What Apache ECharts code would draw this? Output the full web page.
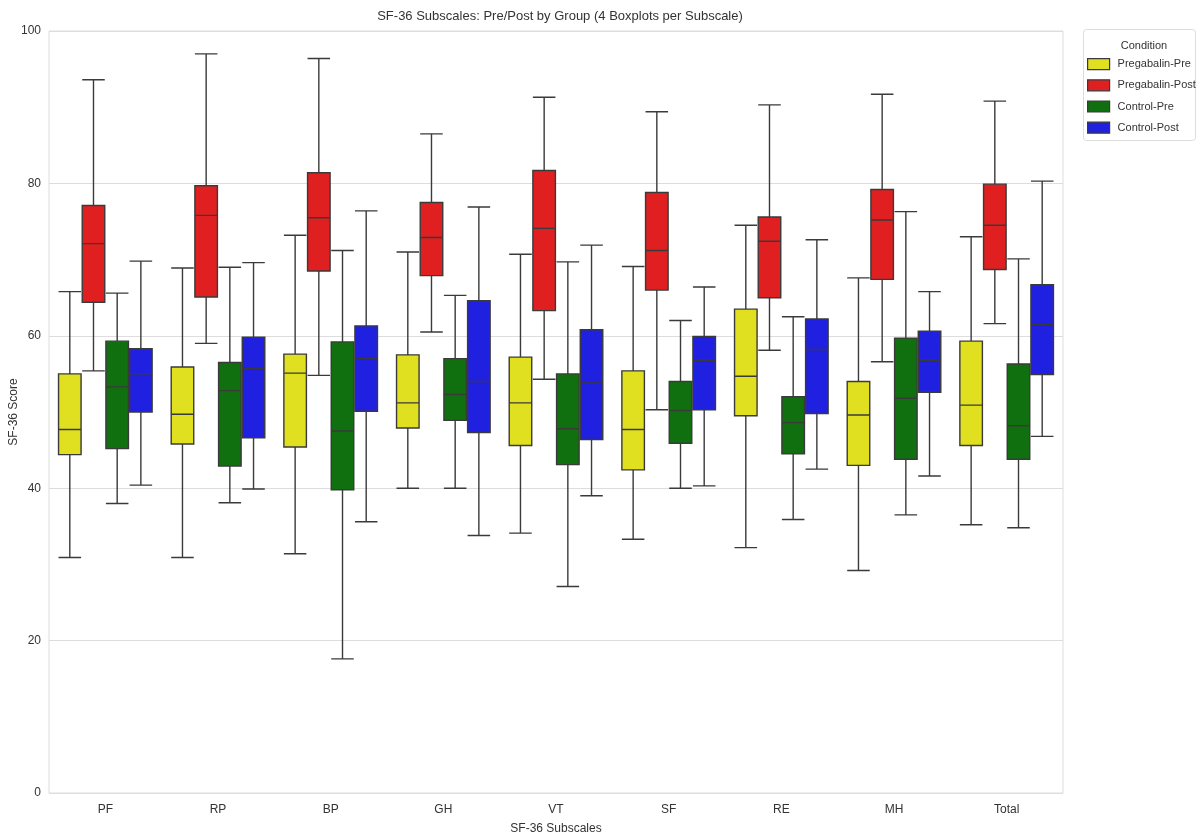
<!DOCTYPE html>
<html>
<head>
<meta charset="utf-8">
<title>SF-36 Subscales boxplots</title>
<script src="https://cdn.jsdelivr.net/npm/echarts@6/dist/echarts.min.js"></script>
<style>
  html, body { margin: 0; padding: 0; background: #fff; }
  #chart { width: 1198px; height: 837px; }
</style>
</head>
<body>
<div id="chart"></div>
<script>
  // subscales on x
  var subscales = ['PF', 'RP', 'BP', 'GH', 'VT', 'SF', 'RE', 'MH', 'Total'];
  var conditions = ['Pregabalin-Pre', 'Pregabalin-Post', 'Control-Pre', 'Control-Post'];
  var colors = ['#e0e020', '#e02020', '#107010', '#2020e0'];

  // each box: [low whisker, Q1, median, Q3, high whisker]
  var pregabalinPre = [
    [30.9, 44.4, 47.7, 55.0, 65.8],
    [30.9, 45.8, 49.7, 55.9, 68.9],
    [31.4, 45.4, 55.1, 57.6, 73.2],
    [40.0, 47.9, 51.2, 57.5, 71.0],
    [34.1, 45.6, 51.2, 57.2, 70.7],
    [33.3, 42.4, 47.7, 55.4, 69.1],
    [32.2, 49.5, 54.7, 63.5, 74.5],
    [29.2, 43.0, 49.6, 54.0, 67.6],
    [35.2, 45.6, 50.9, 59.3, 73.0]
  ];
  var pregabalinPost = [
    [55.4, 64.4, 72.1, 77.1, 93.6],
    [59.0, 65.1, 75.8, 79.7, 97.0],
    [54.8, 68.5, 75.5, 81.4, 96.4],
    [60.5, 67.9, 72.9, 77.5, 86.5],
    [54.3, 63.3, 74.1, 81.7, 91.3],
    [50.3, 66.0, 71.2, 78.8, 89.4],
    [58.1, 65.0, 72.4, 75.6, 90.3],
    [56.6, 67.4, 75.2, 79.2, 91.7],
    [61.6, 68.7, 74.5, 79.9, 90.8]
  ];
  var controlPre = [
    [38.0, 45.2, 53.3, 59.3, 65.6],
    [38.1, 42.9, 52.8, 56.5, 69.0],
    [17.6, 39.8, 47.5, 59.2, 71.2],
    [40.0, 48.9, 52.3, 57.0, 65.3],
    [27.1, 43.1, 47.8, 55.0, 69.7],
    [40.0, 45.9, 50.2, 54.0, 62.0],
    [35.9, 44.5, 48.6, 52.0, 62.5],
    [36.5, 43.8, 51.8, 59.7, 76.3],
    [34.8, 43.8, 48.2, 56.3, 70.1]
  ];
  var controlPost = [
    [40.4, 50.0, 55.0, 58.3, 69.8],
    [39.9, 46.6, 55.7, 59.8, 69.6],
    [35.6, 50.1, 57.0, 61.3, 76.4],
    [33.8, 47.3, 54.0, 64.6, 76.9],
    [39.0, 46.4, 53.8, 60.8, 71.9],
    [40.3, 50.3, 56.8, 59.9, 66.4],
    [42.5, 49.8, 58.2, 62.2, 72.6],
    [41.6, 52.6, 56.8, 60.6, 65.8],
    [46.8, 54.9, 61.5, 66.7, 80.3]
  ];
  var yTicks = [0, 20, 40, 60, 80, 100];

  var seriesData = [pregabalinPre, pregabalinPost, controlPre, controlPost];
  var fontFamily = '"Liberation Sans", Arial, sans-serif';
  var edgeColor = '#3a3a3a';

  var chart = echarts.init(document.getElementById('chart'));

  var series = [];
  var legendItems = [];
  for (var i = 0; i < conditions.length; i++) {
    series.push({
      name: conditions[i],
      type: 'boxplot',
      boxWidth: ['20%', '20%'],
      itemStyle: {
        color: colors[i],
        borderColor: edgeColor,
        borderWidth: 1.4
      },
      emphasis: { disabled: true },
      data: seriesData[i]
    });
    // legend swatches: fill colour with dark edge
    legendItems.push({
      name: conditions[i],
      itemStyle: { color: colors[i], borderColor: edgeColor, borderWidth: 1.2 }
    });
  }

  var option = {
    animation: false,
    backgroundColor: '#ffffff',
    textStyle: { fontFamily: fontFamily },
    title: [
      {
        text: 'SF-36 Subscales: Pre/Post by Group (4 Boxplots per Subscale)',
        left: 555,
        top: 5,
        textAlign: 'center',
        textStyle: { fontSize: 13, fontWeight: 'normal', color: '#333', fontFamily: fontFamily }
      },
      {
        text: 'Condition',
        left: 1139,
        top: 35,
        textAlign: 'center',
        textStyle: { fontSize: 11, fontWeight: 'normal', color: '#333', fontFamily: fontFamily }
      }
    ],
    // legend frame drawn separately so it keeps its size
    graphic: [
      {
        type: 'rect',
        left: 1083,
        top: 29,
        z: 0,
        shape: { width: 112, height: 111, r: 3 },
        style: { fill: '#fff', stroke: '#dddddd', lineWidth: 1 }
      }
    ],
    legend: {
      data: legendItems,
      orient: 'vertical',
      left: 1083,
      top: 29,
      padding: [29, 0, 0, 4],
      itemGap: 9,
      itemWidth: 22,
      itemHeight: 11,
      icon: 'rect',
      selectedMode: false,
      textStyle: { fontSize: 11, color: '#333', fontFamily: fontFamily, padding: [0, 0, 0, 3] }
    },
    grid: {
      left: 49,
      right: 135,
      top: 31,
      bottom: 44,
      outerBoundsMode: 'none',
      containLabel: false,
      show: true,
      borderColor: '#dddddd',
      borderWidth: 1
    },
    xAxis: {
      type: 'category',
      data: subscales,
      name: 'SF-36 Subscales',
      nameLocation: 'middle',
      nameGap: 30,
      nameTextStyle: { fontSize: 12, color: '#333' },
      axisLine: { show: false },
      axisTick: { show: false },
      axisLabel: { fontSize: 12, color: '#333', margin: 11 },
      splitLine: { show: false }
    },
    yAxis: {
      type: 'value',
      min: yTicks[0],
      max: yTicks[yTicks.length - 1],
      interval: 20,
      name: 'SF-36 Score',
      nameLocation: 'middle',
      nameGap: 29,
      nameMoveOverlap: false,
      nameTextStyle: { fontSize: 12, color: '#333' },
      axisLine: { show: false },
      axisTick: { show: false },
      axisLabel: { fontSize: 12, color: '#333', margin: 8 },
      splitLine: { show: true, lineStyle: { color: '#dddddd', width: 1 } }
    },
    series: series
  };

  chart.setOption(option);
</script>
</body>
</html>
